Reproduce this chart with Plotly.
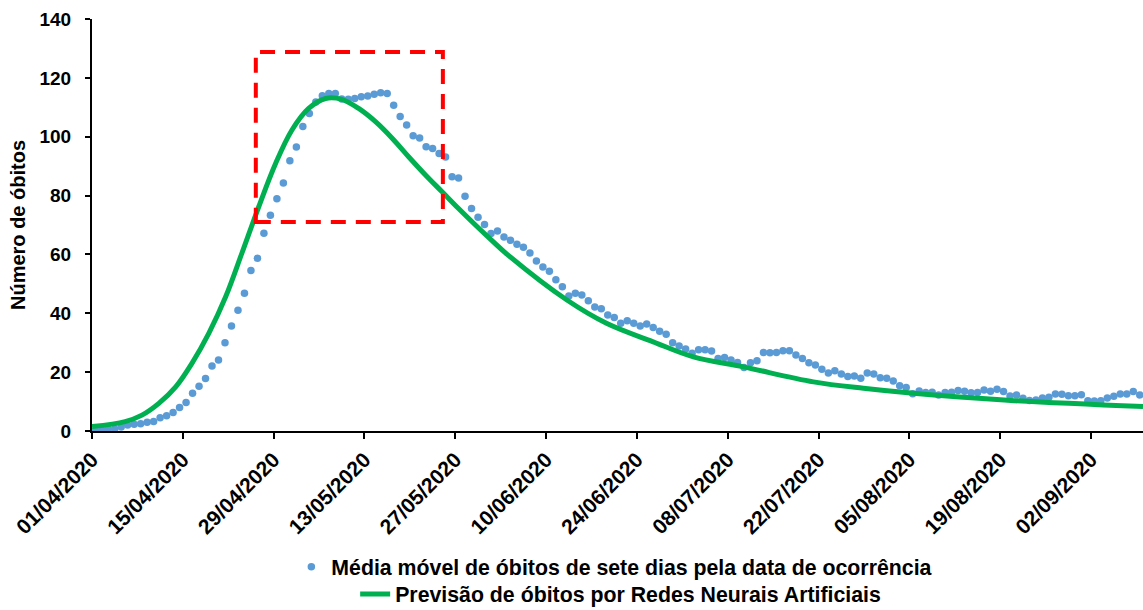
import pandas as pd
import plotly.graph_objects as go

# ---- data ----
start_date = "2020-04-01"
moving_avg = [
    0.2, 0.45, 0.7, 0.7, 1.4, 2.0, 2.3, 2.5, 3.0, 3.2, 4.5, 5.2, 6.3, 8.0, 9.7, 12.8,
    15.2, 17.8, 22.1, 24.1, 30.0, 35.7, 41.0, 46.8, 54.5, 58.7,
    67.2, 73.3, 78.9, 84.3, 91.8, 96.5, 103.5, 107.9, 111.8, 113.9, 114.7, 114.7,
    112.8, 112.7, 113.0, 113.6, 113.8, 114.4, 114.9, 114.7, 110.7, 106.9, 104.0,
    100.3, 99.6, 96.6, 96.0, 94.3, 93.1,
    86.4, 86.0, 79.8, 75.6, 72.6, 70.2, 67.1, 68.0, 65.9, 64.8, 63.5, 62.4, 60.5,
    57.8, 55.7, 54.3, 51.4, 49.0, 45.9, 46.8, 46.2, 44.3, 42.1, 41.5, 39.4, 38.6,
    36.6, 37.5, 36.6, 35.7, 36.4, 35.2, 33.9, 32.9, 30.0, 28.9, 27.9, 26.4, 27.6,
    27.6, 27.2, 24.6, 25.0, 24.1, 23.3, 21.6, 23.2, 23.9, 26.7, 26.6, 26.7, 27.3,
    27.3, 25.8, 24.6, 23.2, 22.4, 21.0, 19.7, 20.5, 19.4, 18.5, 18.7, 17.9, 19.7,
    19.4, 18.1, 17.9, 17.0, 15.4, 14.8, 12.7, 13.6,
    13.1, 13.2, 12.2, 13.1, 13.2, 13.8, 13.5, 13.0, 13.1, 13.9, 13.5, 14.2, 13.4,
    11.9, 12.2, 11.1, 10.4, 10.5, 11.2, 11.5, 12.6, 12.5, 12.0, 12.0, 12.3, 10.3,
    10.2, 10.3, 11.2, 11.8, 12.6, 12.6, 13.4, 12.2,
]
# neural-network forecast (days after 01/04/2020)
forecast_days = [-0.5, 4.6, 7.2, 9.8, 12.4, 14.9, 17.5, 20.1, 22.6, 25.2, 27.8, 30.3,
                 32.9, 35.5, 38.0, 40.6, 43.2, 45.8, 48.3, 50.9, 53.5, 56.0, 58.6,
                 61.2, 63.4, 72.7, 78.8, 86.0, 92.2, 99.9, 110.7, 118.4, 126.1,
                 140.1, 161.5]
forecast_vals = [1.5, 3.2, 5.4, 9.4, 15.0, 23.0, 33.2, 45.6, 60.4, 76.2, 90.9, 102.2,
                 109.6, 113.0, 112.7, 109.6, 105.1, 99.4, 93.2, 87.0, 81.2, 75.6, 70.0,
                 64.6, 60.2, 44.5, 36.6, 30.3, 25.2, 21.8, 16.7, 14.5, 12.8,
                 10.5, 8.3]
tick_dates = ["2020-04-01", "2020-04-15", "2020-04-29", "2020-05-13", "2020-05-27",
              "2020-06-10", "2020-06-24", "2020-07-08", "2020-07-22", "2020-08-05",
              "2020-08-19", "2020-09-02"]
x_range = ["2020-04-01", "2020-09-10"]
y_ticks = [0, 20, 40, 60, 80, 100, 120, 140]
highlight_box = dict(x0="2020-04-26 06:00", x1="2020-05-25 02:00", y0=71, y1=128.8)

name_dots = "Média móvel de óbitos de sete dias pela data de ocorrência"
name_line = "Previsão de óbitos por Redes Neurais Artificiais"

# points sit in the middle of each day (date axis, between tick marks)
base = pd.Timestamp(start_date) + pd.Timedelta(hours=12)
x_dots = [base + pd.Timedelta(days=i) for i in range(len(moving_avg))]
x_line = [base + pd.Timedelta(days=d) for d in forecast_days]

FONT = "Liberation Sans, Arial, sans-serif"
NARROW = "Liberation Sans Narrow, Arial Narrow, Liberation Sans, Arial, sans-serif"

fig = go.Figure()
fig.add_trace(go.Scatter(
    x=x_dots, y=moving_avg, mode="markers", name=name_dots,
    marker=dict(color="#5B9BD5", size=7.5), legend="legend",
))
fig.add_trace(go.Scatter(
    x=x_line, y=forecast_vals, mode="lines", name=name_line,
    line=dict(color="#00B050", width=5, shape="spline", smoothing=1.0),
    legend="legend2", cliponaxis=True,
))

fig.add_shape(type="rect", xref="x", yref="y", **highlight_box,
              line=dict(color="#FF0000", width=4, dash="15px,10px"))

fig.update_layout(
    width=1143, height=610,
    margin=dict(l=92, r=0, t=19, b=179, autoexpand=False),
    paper_bgcolor="white", plot_bgcolor="white",
    font=dict(family=FONT, color="black", size=18, weight="bold"),
    showlegend=True,
    legend=dict(x=0.497, y=-0.330, xanchor="center", yanchor="middle",
                font=dict(family=NARROW, size=21.3, weight="bold"),
                bgcolor="rgba(0,0,0,0)"),
    legend2=dict(x=0.503, y=-0.396, xanchor="center", yanchor="middle",
                 font=dict(family=NARROW, size=21.3, weight="bold"),
                 bgcolor="rgba(0,0,0,0)"),
)
fig.update_xaxes(
    type="date", range=x_range, automargin=False,
    tickvals=tick_dates, tickformat="%d/%m/%Y", tickangle=-45,
    ticks="outside", ticklen=6, tickwidth=2, tickcolor="black",
    showline=True, linecolor="black", linewidth=2,
    showgrid=False, zeroline=False,
    tickfont=dict(size=21, weight="bold"),
)
fig.update_yaxes(
    range=[0, 140], tickvals=y_ticks, automargin=False,
    ticks="outside", ticklen=5, tickwidth=2, tickcolor="black",
    showline=True, linecolor="black", linewidth=2,
    showgrid=False, zeroline=False,
    ticklabelstandoff=10,
    tickfont=dict(size=19, weight="bold"),
    title=dict(text="Número de óbitos", font=dict(size=20, weight="bold"), standoff=8),
)

fig.write_html(
    "out.html",
    config={"displayModeBar": False},
    post_script="document.body.style.margin='0';document.body.style.overflow='hidden';",
)
